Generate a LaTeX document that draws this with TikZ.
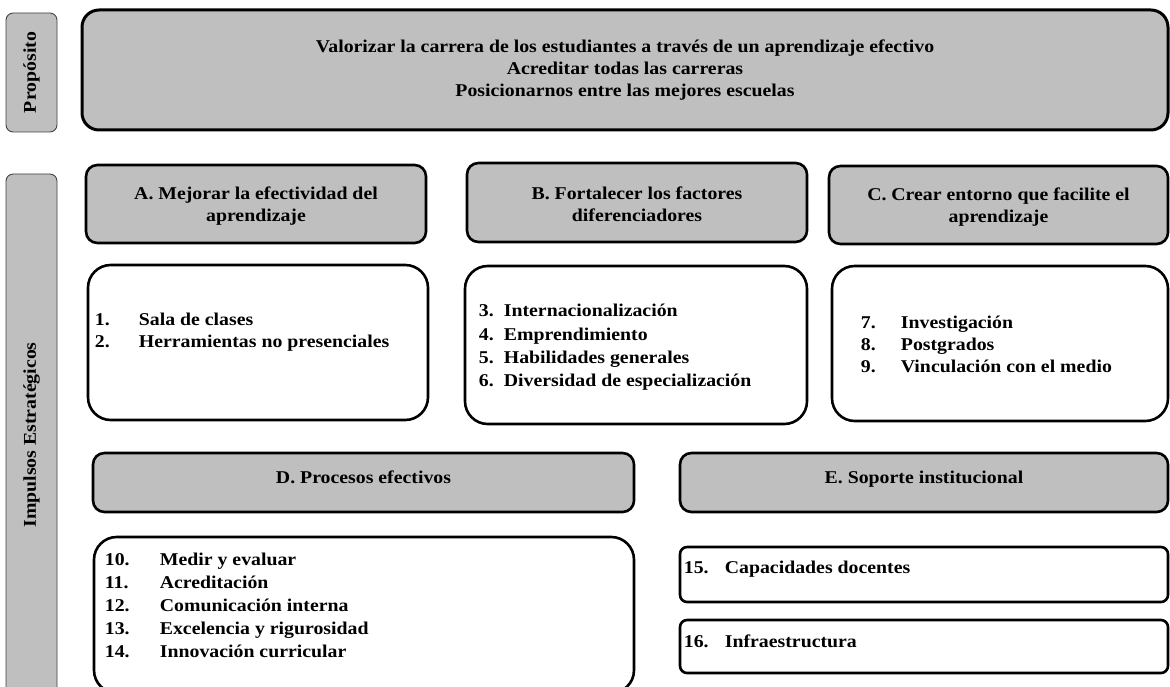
\documentclass[tikz,border=0pt]{standalone}
\usepackage{fontspec}
\setmainfont{Liberation Serif}[FakeStretch=1.1]
\usepackage{tikz}
\usetikzlibrary{positioning}
\definecolor{boxgray}{HTML}{BFBFBF}
\definecolor{labelgray}{HTML}{404040}
\newcommand{\itemlist}[3][1]{\renewcommand{\arraystretch}{#1}\begin{tabular}{@{}p{#2}@{}l@{}}#3\end{tabular}}

\begin{document}
\begin{tikzpicture}[x=1pt,y=-1pt,font=\fontsize{18}{22}\selectfont\bfseries]
  \tikzset{
    sidelabel/.style={draw=labelgray,line width=0.9pt,fill=boxgray,rounded corners=2.5mm,rotate=90,inner sep=0pt},
    goalbox/.style={draw,line width=3pt,fill=boxgray,rounded corners=6mm,align=center,inner sep=0pt,text height=54pt,text depth=0pt},
    headbox/.style={draw,line width=2.6pt,fill=boxgray,rounded corners=4mm,align=center,inner sep=0pt},
    listbox/.style={draw,line width=2.6pt,fill=white,rounded corners=8mm,inner sep=0pt},
    smallbox/.style={draw,line width=2.6pt,fill=white,rounded corners=2.5mm,inner sep=0pt},
    items/.style={anchor=west,align=left,inner sep=0pt}
  }
  \useasboundingbox (0,0) rectangle (1170,687);
  \clip (0,0) rectangle (1170,687);
  % side labels
  \node[sidelabel,minimum width=119pt,minimum height=51pt] (purposeTag) at (31.5,72.5) {Propósito};
  \node[sidelabel,minimum width=522pt,minimum height=51pt] (impulseTag) at (31.5,435) {Impulsos Estratégicos};
  % purpose
  \node[goalbox,minimum width=1086pt,minimum height=120pt] (purpose) at (625,70)
    {Valorizar la carrera de los estudiantes a través de un aprendizaje efectivo\\
     Acreditar todas las carreras\\
     Posicionarnos entre las mejores escuelas};
  % first row
  \node[headbox,text height=36pt,text depth=0pt,minimum width=340pt,minimum height=78pt] (headA) at (256,204) {A. Mejorar la efectividad del\\aprendizaje};
  \node[headbox,text height=39pt,text depth=0pt,minimum width=340pt,minimum height=79pt] (headB) at (637,202.5) {B. Fortalecer los factores\\diferenciadores};
  \node[headbox,text height=36pt,text depth=0pt,minimum width=339pt,minimum height=78pt] (headC) at (998.5,205) {C. Crear entorno que facilite el\\aprendizaje};
  \node[listbox,minimum width=340pt,minimum height=155pt] (listA) at (258,342.5) {};
  \node[listbox,minimum width=342pt,minimum height=158pt] (listB) at (636,345) {};
  \node[listbox,minimum width=336pt,minimum height=155pt] (listC) at (1000,343.5) {};
  \node[items] (itemsA) at ([xshift=8pt,yshift=10pt]listA.west)
    {\itemlist{44pt}{1. & Sala de clases\\ 2. & Herramientas no presenciales}};
  \node[items] (itemsB) at ([xshift=15pt,yshift=-2pt]listB.west)
    {\itemlist[1.06]{25pt}{3. & Internacionalización\\ 4. & Emprendimiento\\ 5. & Habilidades generales\\ 6. & Diversidad de especialización}};
  \node[items] (itemsC) at ([xshift=30pt,yshift=-3pt]listC.west)
    {\itemlist{40pt}{7. & Investigación\\ 8. & Postgrados\\ 9. & Vinculación con el medio}};
  % second row
  \node[headbox,minimum width=541pt,minimum height=59pt,text depth=10pt] (headD) at (363.5,482.5) {D. Procesos efectivos};
  \node[headbox,minimum width=488pt,minimum height=59pt,text depth=10pt] (headE) at (924,482.5) {E. Soporte institucional};
  \node[listbox,minimum width=540pt,minimum height=156pt] (listD) at (364,615) {};
  \node[smallbox,minimum width=488pt,minimum height=55pt] (boxCap) at (924,574.5) {};
  \node[smallbox,minimum width=488pt,minimum height=53pt] (boxInfra) at (924,646.5) {};
  \node[items] (itemsD) at ([xshift=12pt,yshift=8pt]listD.west)
    {\itemlist[1.05]{55pt}{10. & Medir y evaluar\\ 11. & Acreditación\\ 12. & Comunicación interna\\ 13. & Excelencia y rigurosidad\\ 14. & Innovación curricular}};
  \node[items] (itemCap) at ([xshift=5pt,yshift=5pt]boxCap.west)
    {\itemlist{41pt}{15. & Capacidades docentes}};
  \node[items] (itemInfra) at ([xshift=5pt,yshift=3pt]boxInfra.west)
    {\itemlist{41pt}{16. & Infraestructura}};
\end{tikzpicture}
\end{document}
